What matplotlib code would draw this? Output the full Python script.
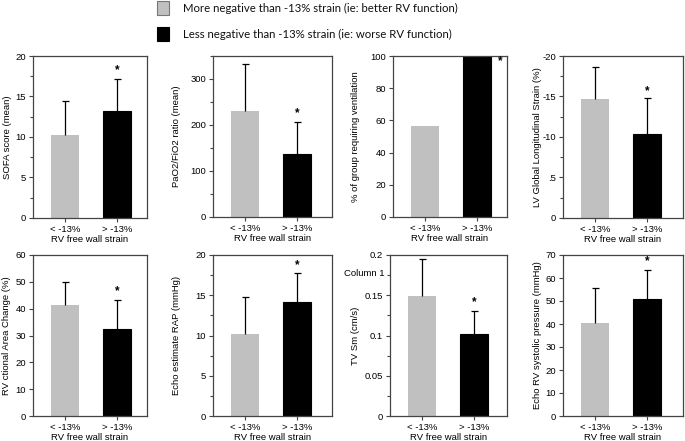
import matplotlib
matplotlib.use("Agg")
import matplotlib.pyplot as plt
from matplotlib.ticker import MultipleLocator, FixedLocator, FixedFormatter
from matplotlib.patches import Rectangle

# ---------------- data ----------------
groups = ["< -13%", "> -13%"]
xlabel = "RV free wall strain"
legend_labels = ["More negative than -13% strain (ie: better RV function)",
                 "Less negative than -13% strain (ie: worse RV function)"]

ylabels = ["SOFA score (mean)", "PaO2/FiO2 ratio (mean)",
           "% of group requiring ventilation", "LV Global Longitudinal Strain (%)",
           "RV ctional Area Change (%)", "Echo estimate RAP (mmHg)",
           "TV Sm (cm/s)", "Echo RV systolic pressure (mmHg)"]

sofa = [10.3, 13.2]
sofa_err = [4.1, 3.9]
pf = [230, 138]
pf_err = [102, 68]
vent = [56.8, 100]
lvgls = [-14.7, -10.4]
lvgls_err = [3.9, 4.4]
fac = [41.3, 32.6]
fac_err = [8.5, 10.8]
rap = [10.15, 14.1]
rap_err = [4.6, 3.7]
tvsm = [0.149, 0.102]
tvsm_err = [0.046, 0.029]
rvsp = [40.3, 50.7]
rvsp_err = [15.2, 12.6]

star_y = [18.2, 226, 97, -15.6, 46.7, 18.8, 0.141, 67.3]

ylims = [(0, 20), (0, 350), (0, 100), (0, -20), (0, 60), (0, 20), (0, 0.2), (0, 70)]
ymajor = [5, 100, 20, 5, 10, 5, 0.05, 10]
yminor = [2.5, 50, None, 2.5, None, 2.5, 0.025, None]
lvgls_ticks = [0, -5, -10, -15, -20]
lvgls_ticklabels = ["0", ".5", "-10", "-15", "-20"]
tvsm_ticks = [0, 0.05, 0.1, 0.15, 0.2]
tvsm_ticklabels = ["0", "0.05", "0.1", "0.15", "0.2"]
column_note = "Column 1"

gray = "#c0c0c0"
colors = [gray, "black"]

# ---------------- layout ----------------
W, H = 685, 441
fig = plt.figure(figsize=(W / 100, H / 100), dpi=100)
plt.rcParams["font.family"] = ["Liberation Sans", "DejaVu Sans"]

# (left, right, top, bottom) in pixels
boxes = [(33, 147, 56, 218), (213, 332, 56, 217), (393, 507, 56, 217), (563, 683, 56, 218),
         (33, 147, 255, 416), (213, 332, 255, 416), (390, 507, 255, 416), (563, 683, 255, 416)]
label_x = [12, 181, 360, 542, 11, 181, 360, 542]

values = [sofa, pf, vent, lvgls, fac, rap, tvsm, rvsp]
errors = [sofa_err, pf_err, None, lvgls_err, fac_err, rap_err, tvsm_err, rvsp_err]

px_per_unit = 52.0
fs = 6.8
spine_col = "#444444"

for i in range(8):
    l, r, t, b = boxes[i]
    ax = fig.add_axes([l / W, 1 - b / H, (r - l) / W, (b - t) / H])
    x = [0, 1]
    ax.set_xlim(-0.62, -0.62 + (r - l) / px_per_unit)
    ax.set_ylim(*ylims[i])
    ax.bar(x, values[i], width=0.54, color=colors, edgecolor=["none", "black"], linewidth=0.8, zorder=2)
    if errors[i] is not None:
        for xi, v, e in zip(x, values[i], errors[i]):
            sign = -1 if v < 0 else 1
            top = v + sign * e
            ax.vlines(xi, v, top, color="black", lw=0.9, zorder=3)
            ax.hlines(top, xi - 0.07, xi + 0.07, color="black", lw=0.9, zorder=3)
    sx = 1.45 if i == 2 else 1
    ax.text(sx, star_y[i], "*", ha="center", va="center", fontsize=8.5, fontweight="bold", zorder=4)

    ax.set_xticks(x)
    ax.set_xticklabels(groups, fontsize=fs)
    ax.set_xlabel(xlabel, fontsize=fs, labelpad=1)
    ax.set_ylabel(ylabels[i], fontsize=fs)
    ax.yaxis.set_label_coords((label_x[i] - l) / (r - l), 0.5)
    if i == 3:
        ax.yaxis.set_major_locator(FixedLocator(lvgls_ticks))
        ax.yaxis.set_major_formatter(FixedFormatter(lvgls_ticklabels))
        ax.yaxis.set_minor_locator(MultipleLocator(yminor[i]))
    elif i == 6:
        ax.yaxis.set_major_locator(FixedLocator(tvsm_ticks))
        ax.yaxis.set_major_formatter(FixedFormatter(tvsm_ticklabels))
        ax.yaxis.set_minor_locator(MultipleLocator(yminor[i]))
    else:
        ax.yaxis.set_major_locator(MultipleLocator(ymajor[i]))
        if yminor[i]:
            ax.yaxis.set_minor_locator(MultipleLocator(yminor[i]))
    ax.tick_params(axis="both", labelsize=fs, length=3, width=0.8, color=spine_col, pad=2)
    ax.tick_params(axis="y", which="minor", length=2, width=0.8, color=spine_col)
    for s in ax.spines.values():
        s.set_color(spine_col)
        s.set_linewidth(0.9)
    if i == 6:
        ax.text(-0.05, 0.888, column_note, transform=ax.transAxes, ha="right", va="center", fontsize=fs)

# ---------------- legend ----------------
leg_font = ["Lato", "DejaVu Sans"]
for k, (lab, c) in enumerate(zip(legend_labels, colors)):
    yc = 8 + k * 26
    fig.patches.append(Rectangle((157 / W, 1 - (yc + 7) / H), 12 / W, 14 / H,
                                 transform=fig.transFigure, facecolor=c,
                                 edgecolor="#777777" if k == 0 else "black", lw=0.8))
    fig.text(183 / W, 1 - yc / H, lab, ha="left", va="center", fontsize=8.2,
             family=leg_font, color="#111111")

fig.savefig("out.png", dpi=100)
